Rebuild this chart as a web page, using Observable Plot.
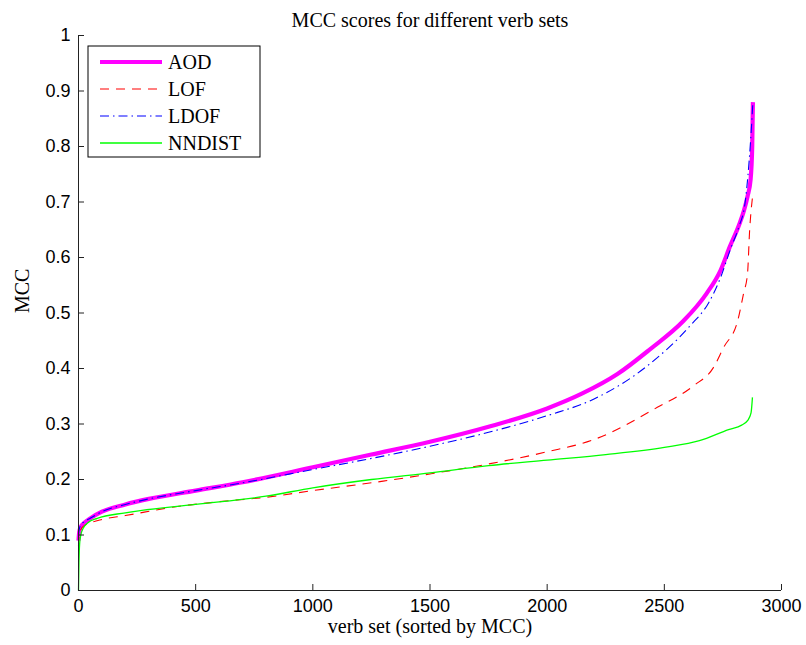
<!DOCTYPE html>
<html>
<head>
<meta charset="utf-8">
<script src="https://cdn.jsdelivr.net/npm/d3@7"></script>
<script src="https://cdn.jsdelivr.net/npm/@observablehq/plot@0.6"></script>
<style>
  html, body { margin: 0; padding: 0; background: #fff; }
  #chart { width: 806px; height: 645px; }
</style>
</head>
<body>
<div id="chart"></div>
<script>
// ---- Data ----
const seriesNames = ["AOD", "LOF", "LDOF", "NNDIST"];

const aodX = [0, 3, 10, 25, 50, 100, 200, 300, 500, 700, 1000, 1250, 1500, 1750, 2000, 2150, 2300, 2440, 2580, 2680, 2740, 2780, 2820, 2840, 2855, 2868, 2875, 2878];
const aodY = [0.09, 0.105, 0.115, 0.122, 0.13, 0.142, 0.155, 0.165, 0.18, 0.195, 0.222, 0.245, 0.268, 0.295, 0.328, 0.355, 0.39, 0.435, 0.485, 0.535, 0.577, 0.62, 0.66, 0.685, 0.71, 0.74, 0.8, 0.88];

const lofX = [0, 3, 10, 25, 50, 100, 200, 400, 600, 800, 1000, 1300, 1500, 1750, 2000, 2200, 2470, 2625, 2710, 2753, 2813, 2838, 2855, 2864, 2876];
const lofY = [0.08, 0.1, 0.11, 0.117, 0.122, 0.128, 0.135, 0.15, 0.16, 0.168, 0.18, 0.197, 0.21, 0.228, 0.25, 0.272, 0.33, 0.369, 0.402, 0.438, 0.486, 0.535, 0.571, 0.649, 0.708];

const ldofX = [0, 3, 10, 25, 50, 100, 200, 300, 500, 700, 1000, 1250, 1500, 1750, 2000, 2200, 2440, 2610, 2690, 2740, 2783, 2817, 2845, 2868, 2878];
const ldofY = [0.1, 0.11, 0.118, 0.124, 0.13, 0.142, 0.155, 0.165, 0.18, 0.194, 0.218, 0.238, 0.26, 0.285, 0.315, 0.345, 0.409, 0.477, 0.519, 0.564, 0.616, 0.654, 0.7, 0.81, 0.88];

const nndistX = [0, 2, 5, 10, 20, 40, 80, 200, 500, 800, 1000, 1250, 1500, 1750, 2000, 2250, 2500, 2650, 2774, 2830, 2855, 2870, 2876];
const nndistY = [0, 0.05, 0.085, 0.1, 0.112, 0.122, 0.13, 0.14, 0.155, 0.17, 0.185, 0.2, 0.212, 0.225, 0.235, 0.245, 0.258, 0.27, 0.29, 0.298, 0.306, 0.32, 0.348];

const xTicks = [0, 500, 1000, 1500, 2000, 2500, 3000];
const yTicks = [0, 0.1, 0.2, 0.3, 0.4, 0.5, 0.6, 0.7, 0.8, 0.9, 1];

const titleText = "MCC scores for different verb sets";
const xLabel = "verb set (sorted by MCC)";
const yLabel = "MCC";

// ---- Styles ----
const styles = {
  AOD:    {stroke: "#ff00ff", strokeWidth: 4.2, dash: null},
  LOF:    {stroke: "#ff0000", strokeWidth: 1.1, dash: "9,7"},
  LDOF:   {stroke: "#0000ff", strokeWidth: 1.1, dash: "9,4,1.5,4"},
  NNDIST: {stroke: "#00ff00", strokeWidth: 1.3, dash: null}
};

const toRows = (xs, ys) => xs.map((x, i) => ({x, y: ys[i]}));
const seriesData = {
  AOD: toRows(aodX, aodY),
  LOF: toRows(lofX, lofY),
  LDOF: toRows(ldofX, ldofY),
  NNDIST: toRows(nndistX, nndistY)
};

const W = 806, H = 645;
const mL = 78, mR = 25, mT = 35, mB = 55;
const plotW = W - mL - mR, plotH = H - mT - mB;
const serif = "'Liberation Serif', 'DejaVu Serif', serif";
const sans = "'Liberation Sans', Arial, sans-serif";

const lineMarks = seriesNames.map(name => Plot.line(seriesData[name], {
  x: "x", y: "y",
  curve: "monotone-x",
  stroke: styles[name].stroke,
  strokeWidth: styles[name].strokeWidth,
  strokeDasharray: styles[name].dash,
  strokeLinejoin: "round",
  strokeLinecap: "butt"
}));

const chart = Plot.plot({
  width: W, height: H,
  marginLeft: mL, marginRight: mR, marginTop: mT, marginBottom: mB,
  style: {background: "#fff", fontFamily: sans, fontSize: "18px", color: "#000"},
  x: {domain: [0, 3000]},
  y: {domain: [0, 1]},
  marks: [
    ...lineMarks,
    // axis lines
    Plot.ruleY([0], {stroke: "#222", strokeWidth: 1}),
    Plot.ruleX([0], {stroke: "#222", strokeWidth: 1}),
    // inward ticks
    Plot.tickX(xTicks, {x: d => d, insetTop: plotH - 6, stroke: "#222"}),
    Plot.tickY(yTicks, {y: d => d, insetRight: plotW - 6, stroke: "#222"}),
    Plot.axisX({ticks: xTicks, tickSize: 0, tickPadding: 9, label: null, fontSize: 18, tickFormat: d => String(d)}),
    Plot.axisY({ticks: yTicks, tickSize: 0, tickPadding: 8, label: null, fontSize: 18, tickFormat: d => String(+d.toFixed(1))}),
    // title and axis labels
    Plot.text([titleText], {text: d => d, frameAnchor: "top", dy: -23, fontFamily: serif, fontSize: 20, fill: "#000"}),
    Plot.text([xLabel], {text: d => d, frameAnchor: "bottom", dy: 42, fontFamily: serif, fontSize: 20, fill: "#000"}),
    Plot.text([yLabel], {text: d => d, frameAnchor: "left", dx: -56, rotate: -90, fontFamily: serif, fontSize: 20, fill: "#000"})
  ]
});

document.getElementById("chart").appendChild(chart);

// ---- Legend box (upper-left, inside axes) ----
const svg = d3.select(chart.tagName.toLowerCase() === "svg" ? chart : chart.querySelector("svg"));
const lg = svg.append("g").attr("transform", `translate(${mL + 10},${mT + 11})`)
  .attr("text-anchor", "start");
lg.append("rect").attr("x", 0).attr("y", 0).attr("width", 172).attr("height", 111)
  .attr("fill", "#fff").attr("stroke", "#000").attr("stroke-width", 1);
seriesNames.forEach((name, i) => {
  const cy = 16 + i * 27;
  const s = styles[name];
  lg.append("line").attr("x1", 12).attr("x2", 74).attr("y1", cy).attr("y2", cy)
    .attr("stroke", s.stroke).attr("stroke-width", s.strokeWidth)
    .attr("stroke-dasharray", s.dash);
  lg.append("text").attr("x", 80).attr("y", cy).attr("dy", "0.35em")
    .attr("text-anchor", "start")
    .attr("font-family", serif).attr("font-size", 20).attr("fill", "#000").text(name);
});
</script>
</body>
</html>
